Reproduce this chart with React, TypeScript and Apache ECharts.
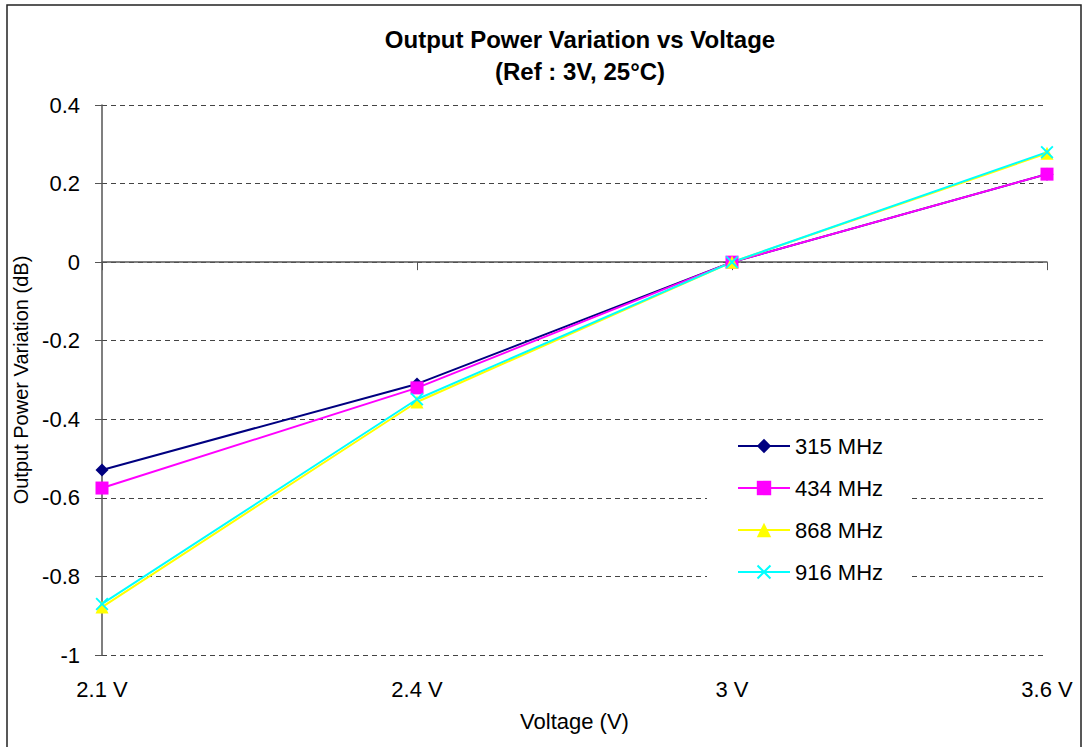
import React, { useEffect, useRef } from "react";
import * as echarts from "echarts";

const categories = ["2.1 V", "2.4 V", "3 V", "3.6 V"];
const s315 = [-0.529, -0.31, 0, 0.224];
const s434 = [-0.575, -0.32, 0, 0.224];
const s868 = [-0.878, -0.356, 0, 0.277];
const s916 = [-0.87, -0.349, 0, 0.28];
const seriesNames = ["315 MHz", "434 MHz", "868 MHz", "916 MHz"];

const FONT = "Liberation Sans, Arial, sans-serif";
const CROSS = "path://M0,1 L1,0 L5,4 L9,0 L10,1 L6,5 L10,9 L9,10 L5,6 L1,10 L0,9 L4,5 Z";

export default function App() {
  const ref = useRef<HTMLDivElement>(null);
  useEffect(() => {
    if (!ref.current) return;
    const chart = echarts.init(ref.current, undefined, { renderer: "svg" });
    const mk = (name: string, data: number[], color: string, symbol: string, size: number) => ({
      name,
      type: "line",
      data,
      symbol,
      symbolSize: size,
      showAllSymbol: true,
      lineStyle: { color, width: 2 },
      itemStyle: { color, borderColor: color, borderWidth: 0 },
    });
    chart.setOption({
      animation: false,
      backgroundColor: "#fff",
      textStyle: { fontFamily: FONT },
      title: {
        text: "Output Power Variation vs Voltage\n(Ref : 3V, 25°C)",
        left: 575,
        textAlign: "center",
        top: 18,
        textStyle: { fontFamily: FONT, fontSize: 24, fontWeight: "bold", color: "#000", lineHeight: 32 },
      },
      legend: {
        orient: "vertical",
        left: 707,
        top: 427,
        padding: [8, 26, 8, 30],
        backgroundColor: "#fff",
        itemWidth: 52,
        itemHeight: 18,
        itemGap: 20,
        data: seriesNames,
        textStyle: { fontFamily: FONT, fontSize: 22, color: "#000" },
      },
      grid: { left: 102, top: 105, right: 36, bottom: 92 },
      xAxis: {
        type: "category",
        data: categories,
        boundaryGap: false,
        name: "Voltage (V)",
        nameLocation: "middle",
        nameGap: 55,
        nameTextStyle: { fontFamily: FONT, fontSize: 22, color: "#000" },
        axisLine: { lineStyle: { color: "#555", width: 1.5 } },
        axisTick: { show: true, length: 8, lineStyle: { color: "#555" } },
        axisLabel: { fontFamily: FONT, fontSize: 22, color: "#000", margin: 23 },
        splitLine: { show: false },
      },
      yAxis: {
        type: "value",
        min: -1,
        max: 0.4,
        interval: 0.2,
        name: "Output Power Variation (dB)",
        nameLocation: "middle",
        nameGap: 64,
        nameTextStyle: { fontFamily: FONT, fontSize: 20, color: "#000" },
        axisLine: { show: true, lineStyle: { color: "#555", width: 1.5 } },
        axisTick: { show: true, length: 7, lineStyle: { color: "#555" } },
        axisLabel: {
          fontFamily: FONT,
          fontSize: 22,
          color: "#000",
          margin: 22,
          formatter: (v: number) => String(Math.round(v * 10) / 10),
        },
        splitLine: { show: true, lineStyle: { color: "#444", type: [5, 4], width: 1 } },
      },
      graphic: [
        {
          type: "rect",
          shape: { x: 7, y: 5, width: 1074, height: 760 },
          style: { fill: "none", stroke: "#222", lineWidth: 1.5 },
          z: 100,
          silent: true,
        },
      ],
      series: [
        mk(seriesNames[0], s315, "#000080", "diamond", 13),
        mk(seriesNames[1], s434, "#FF00FF", "rect", 13),
        mk(seriesNames[2], s868, "#FFFF00", "triangle", 13),
        mk(seriesNames[3], s916, "#00FFFF", CROSS, 13),
      ],
    });
    return () => chart.dispose();
  }, []);
  return (
    <div
      ref={ref}
      style={{ position: "absolute", left: 0, top: 0, width: 1083, height: 747 }}
    />
  );
}
